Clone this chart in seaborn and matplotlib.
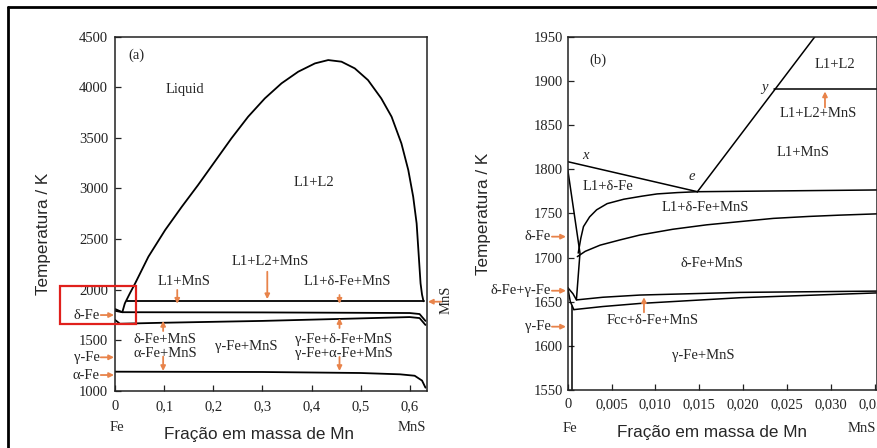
import numpy as np
import pandas as pd
import matplotlib
matplotlib.use("Agg")
import matplotlib.pyplot as plt
import seaborn as sns
from matplotlib.lines import Line2D
from matplotlib.patches import Rectangle

# ---------------- Panel (a) data ----------------
dome_x = [0.015, 0.02, 0.03, 0.041, 0.068, 0.102, 0.136, 0.169, 0.203, 0.237, 0.271,
          0.305, 0.339, 0.373, 0.407, 0.434, 0.461, 0.488, 0.515, 0.542, 0.563,
          0.583, 0.597, 0.607, 0.614, 0.618, 0.622, 0.625, 0.628]
dome_T = [1778, 1863, 1960, 2061, 2325, 2588, 2819, 3033, 3264, 3495, 3709,
          3890, 4039, 4154, 4236, 4269, 4253, 4187, 4071, 3890, 3709,
          3445, 3182, 2918, 2654, 2358, 2061, 1950, 1884]
mono_a_x = [0.024, 0.628]
mono_a_T = [1882, 1882]
eut_a_x = [0.0, 0.015, 0.30, 0.60, 0.62, 0.632]
eut_a_T = [1790, 1776, 1774, 1768, 1758, 1690]
dfe_a_x = [0.0, 0.01, 0.10, 0.30, 0.50, 0.60, 0.62, 0.632]
dfe_a_T = [1700, 1662, 1672, 1690, 1715, 1728, 1718, 1650]
afe_a_x = [0.0, 0.30, 0.50, 0.58, 0.61, 0.625, 0.632]
afe_a_T = [1188, 1185, 1175, 1162, 1148, 1100, 1030]
liq_a_x = [0.0, 0.015]
liq_a_T = [1808, 1776]
a_xticks = [0, 0.1, 0.2, 0.3, 0.4, 0.5, 0.6]
a_xticklabels = ["0", "0,1", "0,2", "0,3", "0,4", "0,5", "0,6"]
a_yticks = [1000, 1500, 2000, 2500, 3000, 3500, 4000, 4500]
a_labels = ["(a)", "Liquid", "L1+L2", "L1+L2+MnS", "L1+MnS", "L1+δ-Fe+MnS",
            "δ-Fe+MnS", "α-Fe+MnS", "γ-Fe+MnS", "γ-Fe+δ-Fe+MnS", "γ-Fe+α-Fe+MnS"]
a_label_x = [0.0427, 0.142, 0.405, 0.3166, 0.141, 0.4725, 0.1017, 0.1017, 0.268, 0.4658, 0.4658]
a_label_T = [4319, 3979, 3062, 2282, 2084, 2084, 1507, 1369, 1441, 1507, 1369]
a_arrow_x = [0.1267, 0.3100, 0.098, 0.098, 0.457, 0.457, 0.457]
a_arrow_tail = [1996, 2176, 1590, 1337, 1946, 1620, 1333]
a_arrow_head = [1860, 1905, 1690, 1195, 1860, 1718, 1195]
a_side_labels = ["δ-Fe", "γ-Fe", "α-Fe"]
a_side_T = [1748, 1330, 1155]

# ---------------- Panel (b) data ----------------
liq_b_x = [0.0, 0.0148]
liq_b_T = [1808.5, 1774.5]
ey_b_x = [0.0148, 0.0282]
ey_b_T = [1774.5, 1950]
mono_b_x = [0.0235, 0.0355]
mono_b_T = [1890.4, 1890.4]
eut_b_x = [0.0148, 0.0355]
eut_b_T = [1774.5, 1776.5]
curveA_x = [0.0012, 0.0015, 0.0018, 0.0025, 0.0033, 0.0045, 0.0064, 0.0085, 0.0102, 0.0125, 0.0148]
curveA_T = [1705, 1722, 1735, 1746, 1754, 1761, 1766, 1769.5, 1772, 1773.5, 1774.5]
curveB_x = [0.0011, 0.0020, 0.0037, 0.0060, 0.00825, 0.0120, 0.01585, 0.0200, 0.02346, 0.0275, 0.0311, 0.0355]
curveB_T = [1701, 1707, 1714, 1720, 1725.5, 1732, 1737, 1741, 1744.3, 1746.5, 1748, 1749.5]
solvus_x = [0.0, 0.0014, 0.0010]
solvus_T = [1800, 1705, 1653]
upper_b_x = [0.0010, 0.0040, 0.00825, 0.0197, 0.0355]
upper_b_T = [1652, 1655, 1657.5, 1660.5, 1662]
lower_b_x = [0.0007, 0.0040, 0.00825, 0.0197, 0.0355]
lower_b_T = [1641, 1644.5, 1648, 1654.5, 1660]
lens1_x = [0.0, 0.0006, 0.0010]
lens1_T = [1666, 1659, 1652]
lens2_x = [0.0, 0.0003, 0.0007]
lens2_T = [1666, 1650, 1641]
gam_b_x = [0.00053, 0.00053]
gam_b_T = [1645, 1550]
b_xticks = [0, 0.005, 0.010, 0.015, 0.020, 0.025, 0.030, 0.035]
b_xticklabels = ["0", "0,005", "0,010", "0,015", "0,020", "0,025", "0,030", "0,035"]
b_yticks = [1550, 1600, 1650, 1700, 1750, 1800, 1850, 1900, 1950]
b_labels = ["(b)", "L1+L2", "L1+L2+MnS", "L1+MnS", "L1+δ-Fe", "L1+δ-Fe+MnS",
            "δ-Fe+MnS", "Fcc+δ-Fe+MnS", "γ-Fe+MnS"]
b_label_x = [0.0035, 0.0305, 0.0286, 0.0269, 0.00456, 0.01566, 0.01643, 0.00966, 0.0155]
b_label_T = [1923.6, 1918, 1863, 1818.7, 1780, 1756.8, 1693.4, 1629, 1588.5]
b_italic = ["x", "e", "y"]
b_italic_x = [0.00205, 0.0142, 0.0225]
b_italic_T = [1816, 1791.5, 1893]
b_arrow_x = [0.02935, 0.0087]
b_arrow_tail = [1870, 1638]
b_arrow_head = [1888, 1655]
b_side_labels = ["δ-Fe", "δ-Fe+γ-Fe", "γ-Fe"]
b_side_T = [1723.6, 1662.4, 1621.7]

ORANGE = "#E8834A"
SERIF = ["Liberation Serif", "DejaVu Serif"]
SANS = ["Liberation Sans", "DejaVu Sans"]


def segments(pairs):
    rows = []
    for i, (xs, ts) in enumerate(pairs):
        for xv, tv in zip(xs, ts):
            rows.append({"x": xv, "T": tv, "seg": i})
    return pd.DataFrame(rows)


dfA = segments([(dome_x, dome_T), (mono_a_x, mono_a_T), (eut_a_x, eut_a_T),
                (dfe_a_x, dfe_a_T), (afe_a_x, afe_a_T), (liq_a_x, liq_a_T)])
dfB = segments([(liq_b_x, liq_b_T), (ey_b_x, ey_b_T), (mono_b_x, mono_b_T),
                (eut_b_x, eut_b_T), (curveA_x, curveA_T), (curveB_x, curveB_T),
                (solvus_x, solvus_T), (upper_b_x, upper_b_T), (lower_b_x, lower_b_T),
                (lens1_x, lens1_T), (lens2_x, lens2_T), (gam_b_x, gam_b_T)])

sns.set_style("ticks")
plt.rcParams["font.family"] = SERIF

fig = plt.figure(figsize=(8.78, 4.48), dpi=100)
axA = fig.add_axes([115 / 878, 1 - 390.7 / 448, 311.7 / 878, 354 / 448])
axB = fig.add_axes([567.7 / 878, 1 - 390 / 448, 309 / 878, 353.3 / 448])

sns.lineplot(data=dfA, x="x", y="T", units="seg", estimator=None, sort=False,
             color="black", linewidth=1.3, ax=axA, legend=False)
sns.lineplot(data=dfB, x="x", y="T", units="seg", estimator=None, sort=False,
             color="black", linewidth=1.1, ax=axB, legend=False)

axA.set_xlim(0, 0.6345)
axA.set_ylim(1000, 4500)
axB.set_xlim(0, 0.03525)
axB.set_ylim(1550, 1950)

for ax in (axA, axB):
    for s in ax.spines.values():
        s.set_linewidth(1.1)
        s.set_color("#222222")
        s.set_visible(True)
    ax.tick_params(direction="in", length=4, width=0.9, labelsize=10.5, colors="#222222")

axA.set_xticks(a_xticks)
axA.set_xticklabels(a_xticklabels)
axA.set_yticks(a_yticks)
axA.set_yticklabels([str(v) for v in a_yticks])
axA.tick_params(axis="y", pad=5)
axA.tick_params(axis="x", pad=7)
axB.set_xticks(b_xticks)
axB.set_xticklabels(b_xticklabels)
axB.set_yticks(b_yticks)
axB.set_yticklabels([str(v) for v in b_yticks])
axB.tick_params(axis="y", pad=3.5)
axB.tick_params(axis="x", pad=6)

axA.set_xlabel("Fração em massa de Mn", fontfamily=SANS, fontsize=12.3)
axA.set_ylabel("Temperatura / K", fontfamily=SANS, fontsize=12.3)
axA.xaxis.set_label_coords(0.462, -0.1025)
axA.yaxis.set_label_coords(-0.205, 0.4427)
axB.set_xlabel("Fração em massa de Mn", fontfamily=SANS, fontsize=12.3)
axB.set_ylabel("Temperatura / K", fontfamily=SANS, fontsize=12.3)
axB.xaxis.set_label_coords(0.466, -0.099)
axB.yaxis.set_label_coords(-0.248, 0.498)

# region labels
for t, xv, tv in zip(a_labels, a_label_x, a_label_T):
    axA.text(xv, tv, t, ha="center", va="center", fontsize=10.5)
for t, xv, tv in zip(b_labels, b_label_x, b_label_T):
    axB.text(xv, tv, t, ha="center", va="center", fontsize=10.5)
for t, xv, tv in zip(b_italic, b_italic_x, b_italic_T):
    axB.text(xv, tv, t, ha="center", va="center", fontsize=10.5, style="italic")

arrow_kw = dict(arrowstyle="-|>", color=ORANGE, lw=1.3, mutation_scale=7,
                shrinkA=0, shrinkB=0)
for xv, t0, t1 in zip(a_arrow_x, a_arrow_tail, a_arrow_head):
    axA.annotate("", xy=(xv, t1), xytext=(xv, t0), arrowprops=arrow_kw)
for xv, t0, t1 in zip(b_arrow_x, b_arrow_tail, b_arrow_head):
    axB.annotate("", xy=(xv, t1), xytext=(xv, t0), arrowprops=arrow_kw)

# side labels with arrows
for t, tv in zip(a_side_labels, a_side_T):
    axA.annotate("", xy=(-0.002, tv), xytext=(-0.029, tv), arrowprops=arrow_kw,
                 annotation_clip=False)
    axA.text(-0.031, tv, t, ha="right", va="center", fontsize=10.5, clip_on=False)
for t, tv in zip(b_side_labels, b_side_T):
    axB.annotate("", xy=(-0.0002, tv), xytext=(-0.0018, tv), arrowprops=arrow_kw,
                 annotation_clip=False)
    axB.text(-0.00195, tv, t, ha="right", va="center", fontsize=10.5, clip_on=False)

# MnS arrow on right of panel a
axA.annotate("", xy=(0.637, 1880), xytext=(0.664, 1880), arrowprops=arrow_kw,
             annotation_clip=False)
axA.text(0.674, 1897, "MnS", rotation=90, ha="center", va="center", fontsize=10.5,
         clip_on=False)

# Fe / MnS end labels
axA.text(0.004, -0.105, "Fe", transform=axA.get_xaxis_transform(), ha="center",
         va="center", fontsize=10.5)
axA.text(0.605, -0.105, "MnS", transform=axA.get_xaxis_transform(), ha="center",
         va="center", fontsize=10.5)
axB.text(0.0002, -0.1076, "Fe", transform=axB.get_xaxis_transform(), ha="center",
         va="center", fontsize=10.5)
axB.text(0.0336, -0.1076, "MnS", transform=axB.get_xaxis_transform(), ha="center",
         va="center", fontsize=10.5, clip_on=False)

# red highlight box
axA.add_patch(Rectangle((-0.1119, 1655), 0.1546, 385, fill=False, edgecolor="#E0201C",
                        linewidth=1.6, clip_on=False, zorder=5))

# outer frame (top and left edges of the screenshot)
fig.add_artist(Line2D([8 / 878, 1.0], [1 - 7.5 / 448, 1 - 7.5 / 448],
                      transform=fig.transFigure, color="black", lw=2.0))
fig.add_artist(Line2D([8 / 878, 8 / 878], [0.0, 1 - 7.5 / 448],
                      transform=fig.transFigure, color="black", lw=2.0))

fig.savefig("out.png", dpi=100, facecolor="white")
